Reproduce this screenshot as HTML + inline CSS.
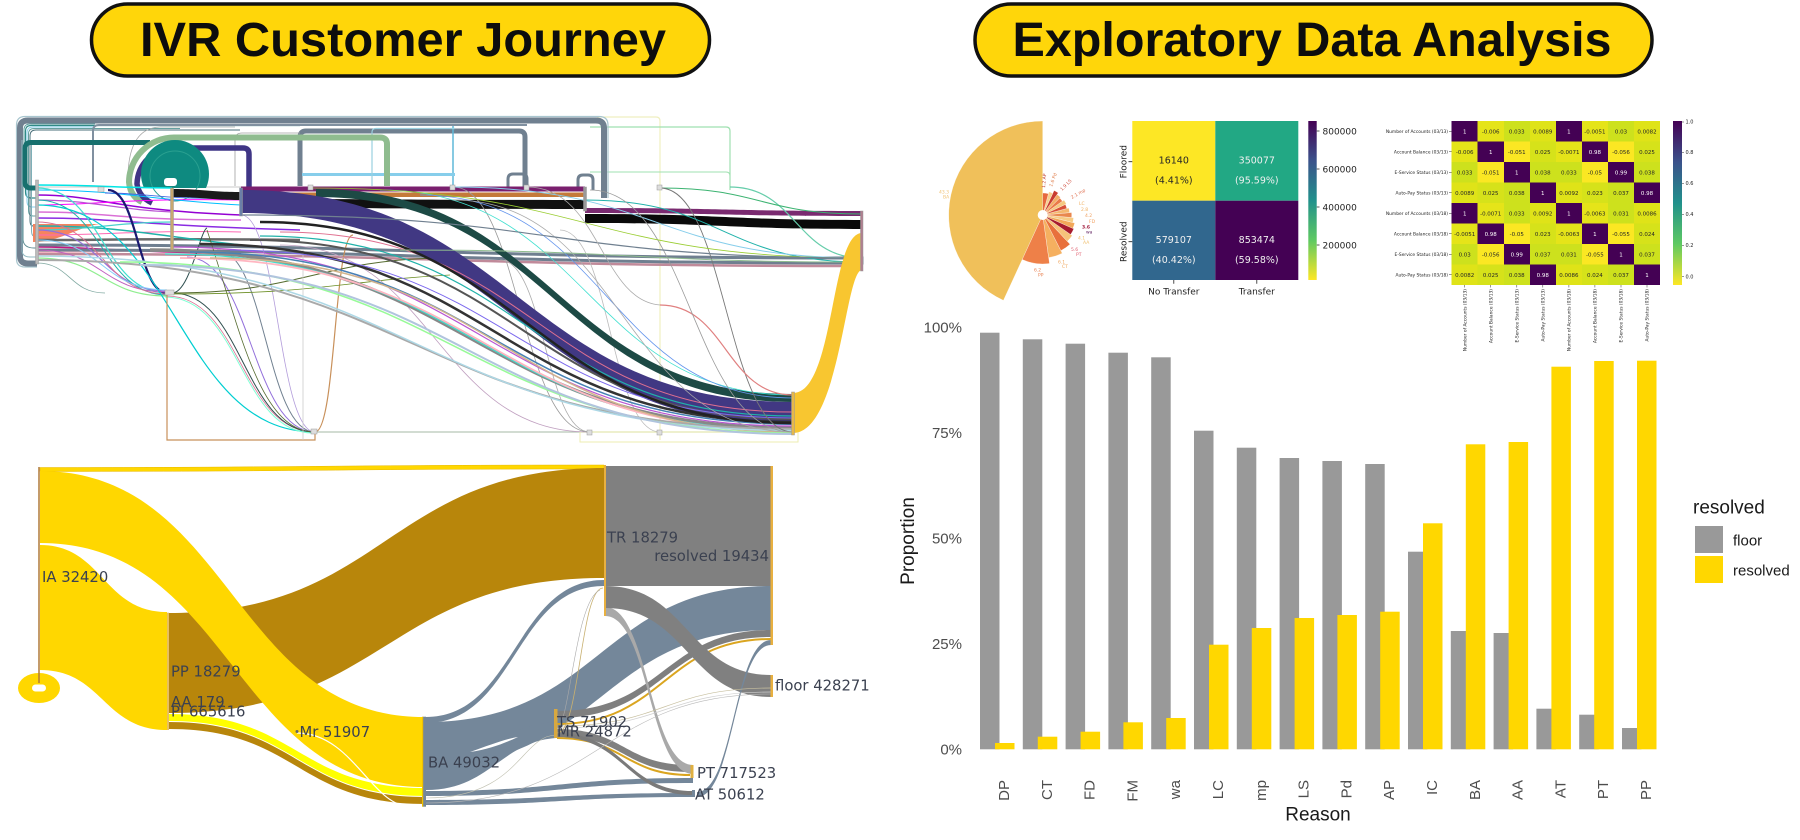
<!DOCTYPE html>
<html><head><meta charset="utf-8">
<style>
html,body{margin:0;padding:0;background:#fff;}
svg{display:block;}
</style></head>
<body>
<svg width="1800" height="840" viewBox="0 0 1800 840" xmlns="http://www.w3.org/2000/svg">
<defs>
<linearGradient id="vir" x1="0" y1="0" x2="0" y2="1">
<stop offset="0" stop-color="#440154"/><stop offset=".25" stop-color="#3b528b"/><stop offset=".5" stop-color="#21918c"/><stop offset=".75" stop-color="#5ec962"/><stop offset="1" stop-color="#fde725"/>
</linearGradient>
<clipPath id="cd"><rect x="130" y="130" width="79" height="58"/></clipPath>
</defs>
<rect width="1800" height="840" fill="#fff"/>

<!-- ===== TITLES ===== -->
<rect x="91.5" y="4" width="618" height="72" rx="36" fill="#FFD60A" stroke="#111" stroke-width="3.5"/>
<text x="403" y="56" text-anchor="middle" font-family="Liberation Sans, sans-serif" font-weight="bold" font-size="48" textLength="526" lengthAdjust="spacingAndGlyphs" fill="#0d0d0d">IVR Customer Journey</text>
<rect x="975" y="4" width="677" height="72" rx="36" fill="#FFD60A" stroke="#111" stroke-width="3.5"/>
<text x="1312" y="56" text-anchor="middle" font-family="Liberation Sans, sans-serif" font-weight="bold" font-size="48" textLength="599" lengthAdjust="spacingAndGlyphs" fill="#0d0d0d">Exploratory Data Analysis</text>

<!-- ===== TOP SANKEY (tangle) ===== -->
<g fill="none">
<path d="M597,117 H656 Q660,117 660,121 V440" stroke="#efefc0" stroke-width="1.2"/>
<path d="M590,127 H726 Q730,127 730,131 V190" stroke="#9fe0b0" stroke-width="1.2"/>
<path d="M590,172 H726 Q730,172 730,176 V187" stroke="#9fe0b0" stroke-width="1"/>
<path d="M608,198 V125 Q608,116.5 599,116.5 H25 Q16.5,116.5 16.5,125 V259 Q16.5,267 25,267 H37" stroke="#a9c6cf" stroke-width="1.2"/>
<path d="M604,198 V128 Q604,120.5 596,120.5 H28 Q20,120.5 20,128 V256 Q20,263.5 28,263.5 H37" stroke="#708090" stroke-width="6"/>
<path d="M37,190 H30 Q24,190 24,184 V130 Q24,124 30,124 H95" stroke="#5f9ea0" stroke-width="1"/>
<path d="M37,198 H31 Q25.5,198 25.5,192 V131 Q25.5,125.5 31,125.5 H300" stroke="#2e8b87" stroke-width="1.2"/>
<path d="M37,207 H32 Q27,207 27,201 V133 Q27,127 33,127 H93" stroke="#87ceeb" stroke-width="1"/>
<path d="M37,216 H33 Q28.5,216 28.5,210 V134 Q28.5,128.5 34,128.5 H180" stroke="#66a0a0" stroke-width="1"/>
<path d="M37,226 H33 Q30,226 30,220 V136 Q30,130 36,130 H240" stroke="#4a6f7a" stroke-width="1"/>
<path d="M37,236 H34 Q31.5,236 31.5,230 V140" stroke="#7fb0b8" stroke-width="1"/>
<path d="M37,248 H34 Q24,248 23,240 V150" stroke="#5a8a90" stroke-width="1"/>
<path d="M37,257 H30 Q22,257 22,250 V140" stroke="#90b8c0" stroke-width="1"/>
<path d="M93,182 V131 Q93,125 99,125 H527" stroke="#8090a0" stroke-width="2"/>
<path d="M300,186 V137 Q300,131 306,131 H519 Q525,131 525,137 V187" stroke="#708090" stroke-width="5"/>
<path d="M508,187 V179 Q508,174 513,174 H522 Q527,174 527,179 V187" stroke="#708090" stroke-width="3"/>
<path d="M578,190 V180 Q578,175 583,175 H588 Q593,175 593,180 V190" stroke="#708090" stroke-width="3"/>
<path d="M453,188 V126" stroke="#5fb8d8" stroke-width="1.5"/>
<path d="M302,174.5 H455" stroke="#87ceeb" stroke-width="3"/>
<path d="M372,186 V132 Q372,128.5 376,128.5 H455" stroke="#9ad0e0" stroke-width="1.2"/>
<path d="M235,186 V140 Q235,133 242,133 H300" stroke="#a0a0a0" stroke-width="0.8"/>
<path d="M128,186 Q126,128 160,127 H235" stroke="#aaa" stroke-width="0.8"/>
<path d="M150,142.5 H31 Q25,142.5 25,148.5 V182 Q25,188 31,188 H37" stroke="#17706e" stroke-width="5"/>
<path d="M387,186 V144 Q387,137.5 380,137.5 H174 A45,45 0 0 0 129,182 Q130,196 142,202" stroke="#8fbc8f" stroke-width="6"/>
<path d="M249,190 V154 Q249,148 243,148 H174 A37,37 0 0 0 137,184 Q139,197 152,203" stroke="#3f3585" stroke-width="5.5"/>
<path d="M37,187 H585" stroke="#b8b8b8" stroke-width="0.8"/>
</g>
<circle cx="175" cy="174" r="34" fill="#0e8a80" clip-path="url(#cd)"/>
<circle cx="175" cy="176" r="25" fill="none" stroke="#2aa090" stroke-width="1"/>
<rect x="164" y="178" width="13" height="8" rx="3" fill="#fff"/>

<!-- left dense horizontal region -->
<path d="M33,224 H100 C80,226 60,242 33,242 Z" fill="#f4845f"/>
<g fill="none">
<path d="M37,195 C100,195 110,210 241,215" stroke="#9400d3" stroke-width="1.5"/>
<path d="M37,205 C100,205 120,198 241,200" stroke="#ff00ff" stroke-width="1"/>
<path d="M37,212 C110,212 110,220 241,220" stroke="#da70d6" stroke-width="1.5"/>
<path d="M37,218 C120,218 130,225 300,230" stroke="#8a2be2" stroke-width="1.5"/>
<path d="M37,190 C120,190 150,200 241,205" stroke="#00bfff" stroke-width="1"/>
<path d="M37,235 C110,235 140,230 241,232" stroke="#ff69b4" stroke-width="1"/>
<path d="M37,240 C120,240 150,238 300,240" stroke="#696969" stroke-width="2.5"/>
<path d="M37,226 C120,226 150,235 241,245" stroke="#20b2aa" stroke-width="1.5"/>
<path d="M37,185 C100,185 120,188 172,188" stroke="#00e5e5" stroke-width="1.5"/>
<path d="M37,247 C100,247 130,253 241,253" stroke="#c71585" stroke-width="1.5"/>
<path d="M37,252 C100,252 130,250 241,250" stroke="#ffc0cb" stroke-width="2"/>
<path d="M105,193 C150,193 160,200 241,198" stroke="#4169e1" stroke-width="1"/>
<path d="M37,200 C90,200 120,210 172,212" stroke="#ba55d3" stroke-width="1.2"/>
<path d="M37,230 C90,230 120,222 172,222" stroke="#48d1cc" stroke-width="1.2"/>
<path d="M37,245 C400,245 450,258 862,258 L862,263 C450,263 400,250 37,250" stroke="#6f7f90" stroke-width="3"/>
<path d="M37,254 C450,254 450,266 862,266" stroke="#c08a9a" stroke-width="2.5"/>
</g>

<!-- horizontal bands top row -->
<path d="M241,186.5 H585 V191.5 H241 Z" fill="#7a1f6e"/>
<path d="M241,192.5 H585 V197 H241 Z" fill="#c47a3a"/>
<path d="M172,189 C206,189 206,192 241,192 L241,200 C206,200 206,197 172,197 Z" fill="#1a1a1a"/>
<path d="M241,199 C413,199 413,200 585,200 L585,209 C413,209 413,208 241,208 Z" fill="#111"/>
<path d="M585,208 C723,208 723,211 862,211 L862,216 C723,216 723,213 585,213 Z" fill="#7a2a70"/>
<path d="M585,214 C723,214 723,220 862,220 L862,229 C723,229 723,223 585,223 Z" fill="#0a0a0a"/>

<!-- curves to lower nodes -->
<g fill="none">
<path d="M37,188 C102,188 102,293 167,293" stroke="#40e0d0" stroke-width="1.2"/>
<path d="M108,190 C138,190 138,293 167,293" stroke="#191970" stroke-width="2.2"/>
<path d="M37,230 C102,230 102,291 167,291" stroke="#9370db" stroke-width="1.2"/>
<path d="M37,250 C102,250 102,292 167,292" stroke="#c060c0" stroke-width="1"/>
<path d="M37,200 C102,200 102,295 167,295" stroke="#20b2aa" stroke-width="1"/>
<path d="M37,258 C102,258 102,296 167,296" stroke="#90ee90" stroke-width="1.2"/>
<path d="M37,263 C70,263 70,293 105,293" stroke="#7fa8a0" stroke-width="0.8"/>
<path d="M37,222 C102,222 102,294 167,294" stroke="#db7093" stroke-width="1"/>
<path d="M37,240 C102,240 102,290 167,290" stroke="#87cefa" stroke-width="1"/>
<path d="M37,205 C176,205 176,432 315,432" stroke="#00ced1" stroke-width="1.2"/>
<path d="M187,257 C251,257 251,432 315,432" stroke="#9370db" stroke-width="1"/>
<path d="M217,250 C266,250 266,432 315,432" stroke="#708090" stroke-width="1"/>
<path d="M167,296 C241,296 241,432 315,432" stroke="#db7093" stroke-width="0.8"/>
<path d="M165,297 C240,297 240,433 313,433" stroke="#7fffd4" stroke-width="1"/>
<path d="M172,293 C243,293 243,432 315,432" stroke="#2f4f4f" stroke-width="1"/>
<path d="M241,215 C278,215 278,432 315,432" stroke="#b39ddb" stroke-width="0.8"/>
<path d="M315,432 C336,432 334,235 353,235" stroke="#c8905a" stroke-width="1.2"/>
<path d="M207,230 C240,330 260,432 315,432" stroke="#556b2f" stroke-width="0.8"/>
<path d="M172,293 C190,293 200,230 207,228" stroke="#2f4f4f" stroke-width="1"/>
<path d="M172,293 C300,293 320,260 440,258" stroke="#556b2f" stroke-width="1"/>
<path d="M172,294 C320,294 350,280 450,275" stroke="#6b8e23" stroke-width="0.8"/>
<path d="M167,293 V440 H315 V432" stroke="#c8905a" stroke-width="1.2"/>
<path d="M303,250 V440" stroke="#ccc" stroke-width="0.8"/>
<path d="M315,432 H793" stroke="#b8c8b8" stroke-width="1.2"/>
<rect x="580" y="432" width="218" height="10" stroke="#eeeeb0" stroke-width="1"/>
<path d="M280,245 C435,245 435,432 590,432" stroke="#c0a0c0" stroke-width="0.8"/>
<path d="M453,187 C520,187 520,432 590,432" stroke="#999" stroke-width="0.8"/>
<path d="M500,260 C545,260 545,432 590,432" stroke="#aaa" stroke-width="0.8"/>
<path d="M560,230 C610,230 610,432 660,432" stroke="#bbb" stroke-width="0.8"/>
</g>

<!-- big bands -->
<path d="M316,189 C555,189 555,394 793,394 L793,402 C555,402 555,197 316,197 Z" fill="#1d4a45"/>
<path d="M241,190 C517,190 517,402 793,402 L793,425 C517,425 517,213 241,213 Z" fill="#413883"/>

<!-- diagonal bundle -->
<g fill="none">
<path d="M150,250 C472,250 472,428 793,428" stroke="#888" stroke-width="3.5"/>
<path d="M165,254 C479,254 479,430 793,430" stroke="#40e0d0" stroke-width="1.2"/>
<path d="M172,247 C483,247 483,426 793,426" stroke="#ba55d3" stroke-width="1.2"/>
<path d="M180,258 C487,258 487,431 793,431" stroke="#ffb6c1" stroke-width="1.8"/>
<path d="M190,252 C492,252 492,424 793,424" stroke="#4682b4" stroke-width="1.5"/>
<path d="M200,244 C497,244 497,422 793,422" stroke="#333" stroke-width="2.5"/>
<path d="M210,258 C502,258 502,432 793,432" stroke="#d2b48c" stroke-width="1.5"/>
<path d="M37,260 C415,260 415,429 793,429" stroke="#a9a9a9" stroke-width="2"/>
<path d="M37,256 C415,256 415,430.5 793,430.5" stroke="#add8e6" stroke-width="1.5"/>
<path d="M250,240 C522,240 522,419 793,419" stroke="#555" stroke-width="2"/>
<path d="M120,262 C457,262 457,433 793,433" stroke="#98fb98" stroke-width="1.5"/>
<path d="M230,250 C512,250 512,418 793,418" stroke="#7b68ee" stroke-width="1"/>
<path d="M260,236 C527,236 527,416 793,416" stroke="#20b2aa" stroke-width="1.2"/>
<path d="M280,232 C537,232 537,412 793,412" stroke="#e07090" stroke-width="1"/>
<path d="M140,265 C467,265 467,434 793,434" stroke="#b0c4de" stroke-width="2"/>
<path d="M260,222 C526,222 526,423 793,423" stroke="#222" stroke-width="2.5"/>
<path d="M380,190 C587,190 587,395 793,395" stroke="#40e0d0" stroke-width="0.8"/>
<path d="M420,195 C607,195 607,398 793,398" stroke="#6495ed" stroke-width="0.8"/>
<path d="M730,187 C796,187 796,258 862,258" stroke="#66cdaa" stroke-width="1.2"/>
<path d="M660,188 C760,188 760,214 862,214" stroke="#3cb371" stroke-width="1"/>
<path d="M660,188 C726,188 726,432 793,432" stroke="#777" stroke-width="0.9"/>
<path d="M660,305 C726,305 726,395 793,395" stroke="#e08080" stroke-width="1.2"/>
<path d="M862,258 C828,258 828,432 793,432" stroke="#999" stroke-width="0.8"/>
<path d="M862,264 C828,264 828,420 793,420" stroke="#888" stroke-width="0.8"/>
<path d="M585,200 C723,200 723,262 862,262" stroke="#20b2aa" stroke-width="1"/>
<path d="M453,187 C657,187 657,258 862,258" stroke="#87ceeb" stroke-width="1"/>
<path d="M590,190 C691,190 691,432 793,432" stroke="#999" stroke-width="0.8"/>
<path d="M453,200 C623,200 623,432 793,432" stroke="#aaa" stroke-width="0.8"/>
<path d="M311,188 C586,188 586,258 862,258" stroke="#9acd32" stroke-width="0.8"/>
<path d="M400,250 C631,250 631,262 862,262" stroke="#8fbc8f" stroke-width="1"/>
<path d="M241,215 C551,215 551,258 862,258" stroke="#708090" stroke-width="1.2"/>
<path d="M527,187 C600,187 600,300 660,305" stroke="#aaa" stroke-width="0.8"/>
</g>
<path d="M793,393 C835,393 830,233 862,233 L862,270 C845,270 840,433 793,433 Z" fill="#f8c630"/>
<!-- top nodes -->
<g fill="#ddd" stroke="#999" stroke-width="0.5">
<rect x="35.5" y="180" width="3" height="84" fill="#bbb"/>
<rect x="170.5" y="188" width="3" height="62" fill="#c8a870"/>
<rect x="239.5" y="188" width="3" height="28" fill="#6a7fa8"/>
<rect x="583.5" y="187" width="3" height="24" fill="#999"/>
<rect x="860.5" y="211" width="2.5" height="60" fill="#b08090"/>
<rect x="791.5" y="392" width="3" height="43" fill="#e6b84a"/>
<rect x="165" y="290" width="9" height="5"/>
<rect x="311" y="429" width="6" height="5"/>
<rect x="98" y="187" width="6" height="5"/>
<rect x="308" y="185" width="5" height="5"/>
<rect x="450" y="185" width="5" height="5"/>
<rect x="524" y="185" width="5" height="5"/>
<rect x="657" y="185" width="5" height="5"/>
<rect x="587" y="430" width="5" height="5"/>
<rect x="657" y="430" width="5" height="5"/>
</g>

<!-- ===== BOTTOM SANKEY ===== -->
<path d="M40,467.5 C322,467.5 322,465 604,465 L604,469 C322,469 322,471.5 40,471.5 Z" fill="#FFD700" stroke="#e8b800" stroke-width="0.5"/>
<path d="M169,613 C386,613 386,468 604,468 L604,578 C386,578 386,713 169,713 Z" fill="#B8860B"/>
<path d="M40,545 C103,545 103,612 167,612 L167,730 C103,730 103,670 40,670 Z" fill="#FFD700"/>
<path d="M169,722 C297,722 297,797 425,797 L425,804 C297,804 297,729 169,729 Z" fill="#B8860B"/>
<path d="M169,714 C297,714 297,788 425,788 L425,796 C297,796 297,721 169,721 Z" fill="#FFFF00"/>
<path d="M40,471 C232,471 232,717 424,717 L424,787 C232,787 232,543 40,543 Z" fill="#FFD700"/>
<path d="M297,733 C350,733 370,800 405,806" fill="none" stroke="#fff" stroke-width="1.2"/>
<ellipse cx="39" cy="688" rx="21" ry="15" fill="#FFD700"/>
<rect x="32" y="684.5" width="14" height="7" rx="3.5" fill="#fff"/>
<path d="M39,467 V683" stroke="#b07a3a" stroke-width="1.5" fill="none"/>

<rect x="606" y="466" width="165" height="120" fill="#808080"/>
<path d="M426,717 C515,717 515,580 604,580 L604,586 C515,586 515,723 426,723 Z" fill="#74879a"/>
<path d="M426,722 C600,722 600,586 771,586 L771,630 C600,630 600,766 426,766 Z" fill="#74879a"/>
<path d="M426,760 C490,760 500,725 556,722 L556,738 C500,742 490,790 426,790 Z" fill="#74879a"/>
<path d="M470,752 C490,745 505,739 518,737 C505,743 490,749 470,752 Z" fill="#fff"/>
<path d="M426,791 C560,791 560,778 693,778 L693,783 C560,783 560,796 426,796 Z" fill="#74879a"/>
<path d="M426,800 C560,800 560,793 693,793 L693,797 C560,797 560,805 426,805 Z" fill="#74879a"/>
<path d="M557,711 C664,711 664,630 771,630 L771,637 C664,637 664,718 557,718 Z" fill="#7f7f7f"/>
<path d="M557,724 C664,724 664,639 771,639" fill="none" stroke="#DAA520" stroke-width="2"/>
<path d="M557,729 C624,729 624,765 690,765 L690,772 C624,772 624,736 557,736 Z" fill="#808080"/>
<path d="M557,738 C624,738 624,775 690,775" fill="none" stroke="#DAA520" stroke-width="2"/>
<path d="M557,733 C625,733 625,791 693,791 L693,795 C625,795 625,737 557,737 Z" fill="#7a7a7a"/>
<path d="M605,607 C649,607 649,765 693,765 L693,774 C649,774 649,616 605,616 Z" fill="#a9a9a9"/>
<path d="M605,586 C688,586 688,675 771,675 L771,697 C688,697 688,608 605,608 Z" fill="#808080"/>
<path d="M697,792 C734,792 734,640 771,640 L771,645 C734,645 734,797 697,797 Z" fill="#74879a"/>
<g fill="none">
<path d="M557,726 C664,726 664,688 771,688" stroke="#c8c0a0" stroke-width="0.7"/>
<path d="M557,728 C664,728 664,692 771,692" stroke="#d0d0d0" stroke-width="0.7"/>
<path d="M426,803 C600,803 600,694 771,694" stroke="#b8b8b8" stroke-width="0.6"/>
<path d="M426,798 C520,798 520,735 557,735" stroke="#c0c0b0" stroke-width="0.6"/>
<path d="M603,588 C580,588 580,733 557,733" stroke="#c8b070" stroke-width="0.8"/>
<path d="M600,590 C575,600 570,725 557,728" stroke="#aaa" stroke-width="0.6"/>
</g>
<rect x="604" y="465" width="2" height="151" fill="#e8b040"/>
<rect x="770.5" y="466" width="2.5" height="179" fill="#e8b040"/>
<rect x="770.5" y="675" width="2.5" height="22" fill="#e8b040"/>
<rect x="690.5" y="765" width="3" height="13" fill="#e0b040"/>
<rect x="692" y="790" width="3" height="7" fill="#74879a"/>
<rect x="554" y="709" width="3.5" height="29" fill="#d8a840"/>
<rect x="423" y="716.7" width="3" height="90" fill="#74879a"/>
<rect x="422" y="716.7" width="1.2" height="90" fill="#f0c000"/>
<rect x="167" y="612.7" width="2" height="117.3" fill="#e8c060"/>
<circle cx="297" cy="731.5" r="1.5" fill="#666"/>

<g font-family="DejaVu Sans, sans-serif" font-size="14.8" fill="#3b4150">
<text x="42" y="582">IA 32420</text>
<text x="171" y="676.4">PP 18279</text>
<text x="171" y="707">AA 179</text>
<text x="171" y="716.4">PI 665616</text>
<text x="299.5" y="737">Mr 51907</text>
<text x="428" y="767.7">BA 49032</text>
<text x="557" y="727">TS 71902</text>
<text x="557" y="736.4">MR 24872</text>
<text x="607" y="542.7">TR 18279</text>
<text x="769" y="561" text-anchor="end">resolved 19434</text>
<text x="775" y="690.7">floor 428271</text>
<text x="697" y="778">PT 717523</text>
<text x="695" y="799.4">AT 50612</text>
</g>

<!-- ===== ROSE CHART ===== -->
<g stroke="#fff" stroke-width="0.3">
<path d="M1042.7,215 L1042.7,121 A94,94 0 0 0 1003.4,300.4 Z" fill="#f0c05a"/>
<path d="M1042.7,215 L1022.2,259.5 A49,49 0 0 0 1049.5,263.5 Z" fill="#ee8048"/>
<path d="M1042.7,215 L1048.7,257.6 A43,43 0 0 0 1062.2,253.3 Z" fill="#f5b060"/>
<path d="M1042.7,215 L1060.9,250.6 A40,40 0 0 0 1070.0,244.3 Z" fill="#e8703c"/>
<path d="M1042.7,215 L1067.3,241.3 A36,36 0 0 0 1072.2,235.6 Z" fill="#f6c37a"/>
<path d="M1042.7,215 L1070.6,234.5 A34,34 0 0 0 1073.8,228.8 Z" fill="#a81c2e"/>
<path d="M1042.7,215 L1072.8,228.4 A33,33 0 0 0 1074.7,223.0 Z" fill="#f2a85a"/>
<path d="M1042.7,215 L1072.8,222.5 A31,31 0 0 0 1073.6,217.7 Z" fill="#f6cc86"/>
<path d="M1042.7,215 L1071.6,217.5 A29,29 0 0 0 1071.6,212.5 Z" fill="#e9884e"/>
<path d="M1042.7,215 L1069.6,212.6 A27,27 0 0 0 1068.8,208.0 Z" fill="#f4b870"/>
<path d="M1042.7,215 L1066.8,208.5 A25,25 0 0 0 1065.4,204.4 Z" fill="#d85038"/>
<path d="M1042.7,215 L1066.3,204.0 A26,26 0 0 0 1064.0,200.1 Z" fill="#f5c880"/>
<path d="M1042.7,215 L1062.4,201.2 A24,24 0 0 0 1059.7,198.0 Z" fill="#ea7a48"/>
<path d="M1042.7,215 L1060.4,197.3 A25,25 0 0 0 1057.0,194.5 Z" fill="#f3ae66"/>
<path d="M1042.7,215 L1058.2,192.9 A27,27 0 0 0 1054.1,190.5 Z" fill="#c83c30"/>
<path d="M1042.7,215 L1052.8,193.2 A24,24 0 0 0 1048.9,191.8 Z" fill="#f7d08e"/>
<path d="M1042.7,215 L1048.4,193.7 A22,22 0 0 0 1042.7,193 Z" fill="#e6683e"/>
</g>
<circle cx="1042.7" cy="215" r="5" fill="#fff"/>
<g font-family="DejaVu Sans, sans-serif" font-size="4.5">
<text x="939" y="193.5" fill="#f0c070">43.3</text><text x="943" y="198.5" fill="#f0c070">BA</text>
<text x="1034" y="271.5" fill="#e88050">6.2</text><text x="1038" y="276.5" fill="#e88050">PP</text>
<text x="1058" y="263.5" fill="#f0a860">6.1</text><text x="1062" y="268" fill="#f0a860">CT</text>
<text x="1071" y="251" fill="#e06070">5.6</text><text x="1076" y="256" fill="#e06070">PT</text>
<text x="1078" y="239.5" fill="#f0c070">4.1</text><text x="1083" y="244" fill="#f0c070">AA</text>
<text x="1082" y="228.5" fill="#a0183a" font-weight="bold">3.6</text><text x="1086" y="233.5" fill="#602060">wa</text>
<text x="1085" y="217" fill="#f0a060">4.2</text><text x="1089" y="223" fill="#f0a060">FD</text>
<text x="1081" y="211" fill="#f0b060">2.8</text><text x="1079" y="205" fill="#f0b060">LC</text>
<text x="1072" y="199" fill="#e07050" transform="rotate(-30 1072 199)">2.1 mp</text>
<text x="1062" y="191" fill="#d05040" transform="rotate(-45 1062 191)">1.9 LS</text>
<text x="1052" y="187" fill="#e08050" transform="rotate(-70 1052 187)">1.6 Pd</text>
<text x="1045" y="188" fill="#c04030" transform="rotate(-85 1045 188)">1.2 AP</text>
</g>

<!-- ===== CONFUSION MATRIX ===== -->
<rect x="1132.3" y="121" width="83" height="79.7" fill="#fde725"/>
<rect x="1215.3" y="121" width="83" height="79.7" fill="#22a884"/>
<rect x="1132.3" y="200.7" width="83" height="79.3" fill="#31678e"/>
<rect x="1215.3" y="200.7" width="83" height="79.3" fill="#440154"/>
<g font-family="DejaVu Sans, sans-serif" font-size="9.5" text-anchor="middle">
<text x="1173.8" y="163.5" fill="#262626">16140</text><text x="1173.8" y="183.5" fill="#262626">(4.41%)</text>
<text x="1256.8" y="163.5" fill="#f0f0f0">350077</text><text x="1256.8" y="183.5" fill="#f0f0f0">(95.59%)</text>
<text x="1173.8" y="243" fill="#f0f0f0">579107</text><text x="1173.8" y="263" fill="#f0f0f0">(40.42%)</text>
<text x="1256.8" y="243" fill="#f0f0f0">853474</text><text x="1256.8" y="263" fill="#f0f0f0">(59.58%)</text>
</g>
<g stroke="#222" stroke-width="0.8">
<path d="M1128.5,161.7 H1132.3 M1128.5,241.7 H1132.3 M1173.8,280 V283.8 M1256.8,280 V283.8"/>
<path d="M1316.7,131 H1319.5 M1316.7,169 H1319.5 M1316.7,207 H1319.5 M1316.7,245 H1319.5"/>
</g>
<g font-family="DejaVu Sans, sans-serif" font-size="9" fill="#222">
<text transform="translate(1126.5,161.7) rotate(-90)" text-anchor="middle">Floored</text>
<text transform="translate(1126.5,241.7) rotate(-90)" text-anchor="middle">Resolved</text>
<text x="1173.8" y="294.5" text-anchor="middle">No Transfer</text>
<text x="1256.8" y="294.5" text-anchor="middle">Transfer</text>
<text x="1322.5" y="134.3">800000</text>
<text x="1322.5" y="172.3">600000</text>
<text x="1322.5" y="210.3">400000</text>
<text x="1322.5" y="248.3">200000</text>
</g>
<rect x="1308.3" y="121" width="8.4" height="159" fill="url(#vir)"/>

<!-- ===== CORRELATION HEATMAP ===== -->
<g transform="translate(1451.7,121) scale(26.04,20.5)" shape-rendering="crispEdges">
<rect x="0" y="0" width="1.02" height="1.02" fill="#440154"/><rect x="1" y="0" width="1.02" height="1.02" fill="#e5e419"/><rect x="2" y="0" width="1.02" height="1.02" fill="#cde11d"/><rect x="3" y="0" width="1.02" height="1.02" fill="#dfe318"/><rect x="4" y="0" width="1.02" height="1.02" fill="#440154"/><rect x="5" y="0" width="1.02" height="1.02" fill="#e5e419"/><rect x="6" y="0" width="1.02" height="1.02" fill="#cde11d"/><rect x="7" y="0" width="1" height="1.02" fill="#dfe318"/>
<rect x="0" y="1" width="1.02" height="1.02" fill="#e5e419"/><rect x="1" y="1" width="1.02" height="1.02" fill="#440154"/><rect x="2" y="1" width="1.02" height="1.02" fill="#fbe723"/><rect x="3" y="1" width="1.02" height="1.02" fill="#d6e21a"/><rect x="4" y="1" width="1.02" height="1.02" fill="#e5e419"/><rect x="5" y="1" width="1.02" height="1.02" fill="#440154"/><rect x="6" y="1" width="1.02" height="1.02" fill="#fbe723"/><rect x="7" y="1" width="1" height="1.02" fill="#d6e21a"/>
<rect x="0" y="2" width="1.02" height="1.02" fill="#cde11d"/><rect x="1" y="2" width="1.02" height="1.02" fill="#fbe723"/><rect x="2" y="2" width="1.02" height="1.02" fill="#440154"/><rect x="3" y="2" width="1.02" height="1.02" fill="#cde11d"/><rect x="4" y="2" width="1.02" height="1.02" fill="#cde11d"/><rect x="5" y="2" width="1.02" height="1.02" fill="#fbe723"/><rect x="6" y="2" width="1.02" height="1.02" fill="#440154"/><rect x="7" y="2" width="1" height="1.02" fill="#cde11d"/>
<rect x="0" y="3" width="1.02" height="1.02" fill="#dfe318"/><rect x="1" y="3" width="1.02" height="1.02" fill="#d6e21a"/><rect x="2" y="3" width="1.02" height="1.02" fill="#cde11d"/><rect x="3" y="3" width="1.02" height="1.02" fill="#440154"/><rect x="4" y="3" width="1.02" height="1.02" fill="#dfe318"/><rect x="5" y="3" width="1.02" height="1.02" fill="#d6e21a"/><rect x="6" y="3" width="1.02" height="1.02" fill="#cde11d"/><rect x="7" y="3" width="1" height="1.02" fill="#440154"/>
<rect x="0" y="4" width="1.02" height="1.02" fill="#440154"/><rect x="1" y="4" width="1.02" height="1.02" fill="#e5e419"/><rect x="2" y="4" width="1.02" height="1.02" fill="#cde11d"/><rect x="3" y="4" width="1.02" height="1.02" fill="#dfe318"/><rect x="4" y="4" width="1.02" height="1.02" fill="#440154"/><rect x="5" y="4" width="1.02" height="1.02" fill="#e5e419"/><rect x="6" y="4" width="1.02" height="1.02" fill="#cde11d"/><rect x="7" y="4" width="1" height="1.02" fill="#dfe318"/>
<rect x="0" y="5" width="1.02" height="1.02" fill="#e5e419"/><rect x="1" y="5" width="1.02" height="1.02" fill="#440154"/><rect x="2" y="5" width="1.02" height="1.02" fill="#fbe723"/><rect x="3" y="5" width="1.02" height="1.02" fill="#d6e21a"/><rect x="4" y="5" width="1.02" height="1.02" fill="#e5e419"/><rect x="5" y="5" width="1.02" height="1.02" fill="#440154"/><rect x="6" y="5" width="1.02" height="1.02" fill="#fbe723"/><rect x="7" y="5" width="1" height="1.02" fill="#d6e21a"/>
<rect x="0" y="6" width="1.02" height="1.02" fill="#cde11d"/><rect x="1" y="6" width="1.02" height="1.02" fill="#fbe723"/><rect x="2" y="6" width="1.02" height="1.02" fill="#440154"/><rect x="3" y="6" width="1.02" height="1.02" fill="#cde11d"/><rect x="4" y="6" width="1.02" height="1.02" fill="#cde11d"/><rect x="5" y="6" width="1.02" height="1.02" fill="#fbe723"/><rect x="6" y="6" width="1.02" height="1.02" fill="#440154"/><rect x="7" y="6" width="1" height="1.02" fill="#cde11d"/>
<rect x="0" y="7" width="1.02" height="1" fill="#dfe318"/><rect x="1" y="7" width="1.02" height="1" fill="#d6e21a"/><rect x="2" y="7" width="1.02" height="1" fill="#cde11d"/><rect x="3" y="7" width="1.02" height="1" fill="#440154"/><rect x="4" y="7" width="1.02" height="1" fill="#dfe318"/><rect x="5" y="7" width="1.02" height="1" fill="#d6e21a"/><rect x="6" y="7" width="1.02" height="1" fill="#cde11d"/><rect x="7" y="7" width="1" height="1" fill="#440154"/>
</g>
<g font-family="DejaVu Sans, sans-serif" font-size="5.5" text-anchor="middle" fill="#262626">
<text x="1464.7" y="133.3" fill="#fff">1</text><text x="1490.7" y="133.3">-0.006</text><text x="1516.8" y="133.3">0.033</text><text x="1542.8" y="133.3">0.0089</text><text x="1568.9" y="133.3" fill="#fff">1</text><text x="1594.9" y="133.3">-0.0051</text><text x="1621" y="133.3">0.03</text><text x="1647" y="133.3">0.0082</text>
<text x="1464.7" y="153.8">-0.006</text><text x="1490.7" y="153.8" fill="#fff">1</text><text x="1516.8" y="153.8">-0.051</text><text x="1542.8" y="153.8">0.025</text><text x="1568.9" y="153.8">-0.0071</text><text x="1594.9" y="153.8" fill="#fff">0.98</text><text x="1621" y="153.8">-0.056</text><text x="1647" y="153.8">0.025</text>
<text x="1464.7" y="174.3">0.033</text><text x="1490.7" y="174.3">-0.051</text><text x="1516.8" y="174.3" fill="#fff">1</text><text x="1542.8" y="174.3">0.038</text><text x="1568.9" y="174.3">0.033</text><text x="1594.9" y="174.3">-0.05</text><text x="1621" y="174.3" fill="#fff">0.99</text><text x="1647" y="174.3">0.038</text>
<text x="1464.7" y="194.8">0.0089</text><text x="1490.7" y="194.8">0.025</text><text x="1516.8" y="194.8">0.038</text><text x="1542.8" y="194.8" fill="#fff">1</text><text x="1568.9" y="194.8">0.0092</text><text x="1594.9" y="194.8">0.023</text><text x="1621" y="194.8">0.037</text><text x="1647" y="194.8" fill="#fff">0.98</text>
<text x="1464.7" y="215.3" fill="#fff">1</text><text x="1490.7" y="215.3">-0.0071</text><text x="1516.8" y="215.3">0.033</text><text x="1542.8" y="215.3">0.0092</text><text x="1568.9" y="215.3" fill="#fff">1</text><text x="1594.9" y="215.3">-0.0063</text><text x="1621" y="215.3">0.031</text><text x="1647" y="215.3">0.0086</text>
<text x="1464.7" y="235.8">-0.0051</text><text x="1490.7" y="235.8" fill="#fff">0.98</text><text x="1516.8" y="235.8">-0.05</text><text x="1542.8" y="235.8">0.023</text><text x="1568.9" y="235.8">-0.0063</text><text x="1594.9" y="235.8" fill="#fff">1</text><text x="1621" y="235.8">-0.055</text><text x="1647" y="235.8">0.024</text>
<text x="1464.7" y="256.3">0.03</text><text x="1490.7" y="256.3">-0.056</text><text x="1516.8" y="256.3" fill="#fff">0.99</text><text x="1542.8" y="256.3">0.037</text><text x="1568.9" y="256.3">0.031</text><text x="1594.9" y="256.3">-0.055</text><text x="1621" y="256.3" fill="#fff">1</text><text x="1647" y="256.3">0.037</text>
<text x="1464.7" y="276.8">0.0082</text><text x="1490.7" y="276.8">0.025</text><text x="1516.8" y="276.8">0.038</text><text x="1542.8" y="276.8" fill="#fff">0.98</text><text x="1568.9" y="276.8">0.0086</text><text x="1594.9" y="276.8">0.024</text><text x="1621" y="276.8">0.037</text><text x="1647" y="276.8" fill="#fff">1</text>
</g>
<g stroke="#333" stroke-width="0.5">
<path d="M1449,131.25 H1451.7 M1449,151.75 H1451.7 M1449,172.25 H1451.7 M1449,192.75 H1451.7 M1449,213.25 H1451.7 M1449,233.75 H1451.7 M1449,254.25 H1451.7 M1449,274.75 H1451.7"/>
<path d="M1464.7,285 V287.5 M1490.7,285 V287.5 M1516.8,285 V287.5 M1542.8,285 V287.5 M1568.9,285 V287.5 M1594.9,285 V287.5 M1621,285 V287.5 M1647,285 V287.5"/>
<path d="M1682,122 H1684 M1682,152.3 H1684 M1682,183.3 H1684 M1682,214.3 H1684 M1682,245.3 H1684 M1682,276.7 H1684"/>
</g>
<g font-family="DejaVu Sans, sans-serif" font-size="4.4" fill="#222">
<text x="1448" y="132.8" text-anchor="end">Number of Accounts (03/13)</text>
<text x="1448" y="153.3" text-anchor="end">Account Balance (03/13)</text>
<text x="1448" y="173.8" text-anchor="end">E-Service Status (03/13)</text>
<text x="1448" y="194.3" text-anchor="end">Auto-Pay Status (03/13)</text>
<text x="1448" y="214.8" text-anchor="end">Number of Accounts (03/18)</text>
<text x="1448" y="235.3" text-anchor="end">Account Balance (03/18)</text>
<text x="1448" y="255.8" text-anchor="end">E-Service Status (03/18)</text>
<text x="1448" y="276.3" text-anchor="end">Auto-Pay Status (03/18)</text>
<text transform="translate(1466.3,289) rotate(-90)" text-anchor="end">Number of Accounts (03/13)</text>
<text transform="translate(1492.3,289) rotate(-90)" text-anchor="end">Account Balance (03/13)</text>
<text transform="translate(1518.4,289) rotate(-90)" text-anchor="end">E-Service Status (03/13)</text>
<text transform="translate(1544.4,289) rotate(-90)" text-anchor="end">Auto-Pay Status (03/13)</text>
<text transform="translate(1570.5,289) rotate(-90)" text-anchor="end">Number of Accounts (03/18)</text>
<text transform="translate(1596.5,289) rotate(-90)" text-anchor="end">Account Balance (03/18)</text>
<text transform="translate(1622.6,289) rotate(-90)" text-anchor="end">E-Service Status (03/18)</text>
<text transform="translate(1648.6,289) rotate(-90)" text-anchor="end">Auto-Pay Status (03/18)</text>
</g>
<rect x="1673" y="121" width="9" height="164" fill="url(#vir)"/>
<g font-family="DejaVu Sans, sans-serif" font-size="5" fill="#222">
<text x="1685.5" y="123.7">1.0</text><text x="1685.5" y="154">0.8</text><text x="1685.5" y="185">0.6</text>
<text x="1685.5" y="216">0.4</text><text x="1685.5" y="247">0.2</text><text x="1685.5" y="278.4">0.0</text>
</g>

<!-- ===== BAR CHART ===== -->
<g>
<rect x="980" y="332.7" width="19.5" height="416.6" fill="#999"/><rect x="995" y="743" width="19.5" height="6.3" fill="#FFD700"/>
<rect x="1022.8" y="339.3" width="19.5" height="410" fill="#999"/><rect x="1037.8" y="736.7" width="19.5" height="12.6" fill="#FFD700"/>
<rect x="1065.6" y="343.7" width="19.5" height="405.6" fill="#999"/><rect x="1080.6" y="731.7" width="19.5" height="17.6" fill="#FFD700"/>
<rect x="1108.4" y="352.7" width="19.5" height="396.6" fill="#999"/><rect x="1123.4" y="722.3" width="19.5" height="27" fill="#FFD700"/>
<rect x="1151.2" y="357.3" width="19.5" height="392" fill="#999"/><rect x="1166.2" y="718" width="19.5" height="31.3" fill="#FFD700"/>
<rect x="1194" y="430.7" width="19.5" height="318.6" fill="#999"/><rect x="1209" y="644.7" width="19.5" height="104.6" fill="#FFD700"/>
<rect x="1236.8" y="447.7" width="19.5" height="301.6" fill="#999"/><rect x="1251.8" y="628" width="19.5" height="121.3" fill="#FFD700"/>
<rect x="1279.6" y="458" width="19.5" height="291.3" fill="#999"/><rect x="1294.6" y="618" width="19.5" height="131.3" fill="#FFD700"/>
<rect x="1322.4" y="461" width="19.5" height="288.3" fill="#999"/><rect x="1337.4" y="615" width="19.5" height="134.3" fill="#FFD700"/>
<rect x="1365.2" y="464" width="19.5" height="285.3" fill="#999"/><rect x="1380.2" y="611.7" width="19.5" height="137.6" fill="#FFD700"/>
<rect x="1408" y="551.7" width="19.5" height="197.6" fill="#999"/><rect x="1423" y="523.3" width="19.5" height="226" fill="#FFD700"/>
<rect x="1450.8" y="631" width="19.5" height="118.3" fill="#999"/><rect x="1465.8" y="444.3" width="19.5" height="305" fill="#FFD700"/>
<rect x="1493.6" y="633" width="19.5" height="116.3" fill="#999"/><rect x="1508.6" y="442" width="19.5" height="307.3" fill="#FFD700"/>
<rect x="1536.4" y="708.7" width="19.5" height="40.6" fill="#999"/><rect x="1551.4" y="366.7" width="19.5" height="382.6" fill="#FFD700"/>
<rect x="1579.2" y="714.7" width="19.5" height="34.6" fill="#999"/><rect x="1594.2" y="361" width="19.5" height="388.3" fill="#FFD700"/>
<rect x="1622" y="728" width="19.5" height="21.3" fill="#999"/><rect x="1637" y="360.7" width="19.5" height="388.6" fill="#FFD700"/>
</g>
<g font-family="Liberation Sans, sans-serif" font-size="15" fill="#4d4d4d">
<text x="962" y="332.6" text-anchor="end">100%</text>
<text x="962" y="438.1" text-anchor="end">75%</text>
<text x="962" y="543.6" text-anchor="end">50%</text>
<text x="962" y="649.1" text-anchor="end">25%</text>
<text x="962" y="754.6" text-anchor="end">0%</text>
<text transform="translate(1009,780) rotate(-90)" text-anchor="end">DP</text>
<text transform="translate(1051.8,780) rotate(-90)" text-anchor="end">CT</text>
<text transform="translate(1094.6,780) rotate(-90)" text-anchor="end">FD</text>
<text transform="translate(1137.4,780) rotate(-90)" text-anchor="end">FM</text>
<text transform="translate(1180.2,780) rotate(-90)" text-anchor="end">wa</text>
<text transform="translate(1223,780) rotate(-90)" text-anchor="end">LC</text>
<text transform="translate(1265.8,780) rotate(-90)" text-anchor="end">mp</text>
<text transform="translate(1308.6,780) rotate(-90)" text-anchor="end">LS</text>
<text transform="translate(1351.4,780) rotate(-90)" text-anchor="end">Pd</text>
<text transform="translate(1394.2,780) rotate(-90)" text-anchor="end">AP</text>
<text transform="translate(1437,780) rotate(-90)" text-anchor="end">IC</text>
<text transform="translate(1479.8,780) rotate(-90)" text-anchor="end">BA</text>
<text transform="translate(1522.6,780) rotate(-90)" text-anchor="end">AA</text>
<text transform="translate(1565.4,780) rotate(-90)" text-anchor="end">AT</text>
<text transform="translate(1608.2,780) rotate(-90)" text-anchor="end">PT</text>
<text transform="translate(1651,780) rotate(-90)" text-anchor="end">PP</text>
</g>
<g font-family="Liberation Sans, sans-serif" fill="#1a1a1a">
<text transform="translate(914,541) rotate(-90)" text-anchor="middle" font-size="19">Proportion</text>
<text x="1318" y="820.5" text-anchor="middle" font-size="19">Reason</text>
<text x="1693" y="513.5" font-size="19">resolved</text>
<text x="1733" y="545.3" font-size="15">floor</text>
<text x="1733" y="575.3" font-size="15">resolved</text>
</g>
<rect x="1695" y="526" width="28" height="27" fill="#999"/>
<rect x="1695" y="556" width="28" height="27" fill="#FFD700"/>
</svg>
</body>
</html>
